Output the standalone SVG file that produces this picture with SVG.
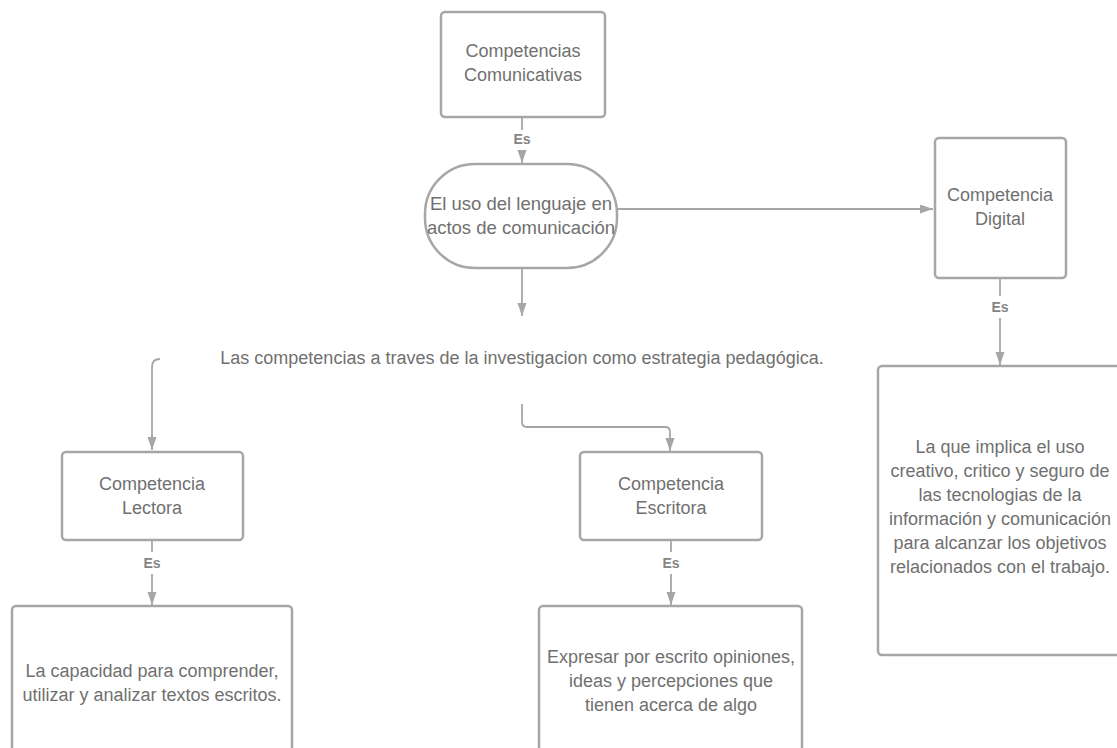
<svg xmlns="http://www.w3.org/2000/svg" width="1117" height="748" viewBox="0 0 1117 748">
<defs>
<style>
.box{fill:#fff;stroke:#a6a6a6;stroke-width:2.5}
.t{font-family:"Liberation Sans",Arial,sans-serif;font-size:18px;fill:#707070;text-anchor:middle}
.tl{font-size:18.5px}
.c{fill:none;stroke:#a6a6a6;stroke-width:1.8}
.es{font-family:"Liberation Sans",Arial,sans-serif;font-size:14px;font-weight:bold;fill:#858585;text-anchor:middle}
</style>
<marker id="ah" markerWidth="13" markerHeight="10" refX="13" refY="4.5" orient="auto" markerUnits="userSpaceOnUse">
<path d="M0,0 L13,4.5 L0,9 Z" fill="#a6a6a6"/>
</marker>
</defs>
<rect width="1117" height="748" fill="#fff"/>
<g id="connectors">
<path class="c" d="M522,117 V130" />
<path class="c" d="M522,150 V163" marker-end="url(#ah)"/>
<path class="c" d="M617,209 H933" marker-end="url(#ah)"/>
<path class="c" d="M522,268 V316" marker-end="url(#ah)"/>
<path class="c" d="M160,359 Q152,359 152,367 V450" marker-end="url(#ah)"/>
<path class="c" d="M522,404 V422 Q522,427 527,427 H665 Q670,427 670,432 V451" marker-end="url(#ah)"/>
<path class="c" d="M1000,278 V296" />
<path class="c" d="M1000,318 V365" marker-end="url(#ah)"/>
<path class="c" d="M152,540 V552" />
<path class="c" d="M152,574 V605" marker-end="url(#ah)"/>
<path class="c" d="M671,540 V552" />
<path class="c" d="M671,574 V605" marker-end="url(#ah)"/>
<text class="es" x="522" y="144">Es</text>
<text class="es" x="1000" y="312">Es</text>
<text class="es" x="152" y="568">Es</text>
<text class="es" x="671" y="568">Es</text>
</g>
<g id="n-comunicativas">
<rect class="box" x="441" y="12" width="164" height="105" rx="4"/>
<text class="t" x="523" y="57">Competencias</text>
<text class="t" x="523" y="81">Comunicativas</text>
</g>
<g id="n-uso">
<rect class="box" x="425" y="164" width="192" height="104" rx="50"/>
<text class="t tl" x="521" y="210">El uso del lenguaje en</text>
<text class="t tl" x="521" y="234">actos de comunicación</text>
</g>
<g id="n-estrategia">
<text class="t" x="522" y="364">Las competencias a traves de la investigacion como estrategia pedagógica.</text>
</g>
<g id="n-digital">
<rect class="box" x="935" y="138" width="131" height="140" rx="4"/>
<text class="t" x="1000" y="201">Competencia</text>
<text class="t" x="1000" y="225">Digital</text>
</g>
<g id="n-digital-def">
<rect class="box" x="878" y="366" width="245" height="289" rx="4"/>
<text class="t" x="1000" y="453">La que implica el uso</text>
<text class="t" x="1000" y="477">creativo, critico y seguro de</text>
<text class="t" x="1000" y="501">las tecnologias de la</text>
<text class="t" x="1000" y="525">información y comunicación</text>
<text class="t" x="1000" y="549">para alcanzar los objetivos</text>
<text class="t" x="1000" y="573">relacionados con el trabajo.</text>
</g>
<g id="n-lectora">
<rect class="box" x="62" y="452" width="181" height="88" rx="4"/>
<text class="t" x="152" y="490">Competencia</text>
<text class="t" x="152" y="514">Lectora</text>
</g>
<g id="n-lectora-def">
<rect class="box" x="12" y="606" width="280" height="160" rx="4"/>
<text class="t" x="152" y="677">La capacidad para comprender,</text>
<text class="t" x="152" y="701">utilizar y analizar textos escritos.</text>
</g>
<g id="n-escritora">
<rect class="box" x="580" y="452" width="182" height="88" rx="4"/>
<text class="t" x="671" y="490">Competencia</text>
<text class="t" x="671" y="514">Escritora</text>
</g>
<g id="n-escritora-def">
<rect class="box" x="539" y="606" width="263" height="160" rx="4"/>
<text class="t" x="671" y="663">Expresar por escrito opiniones,</text>
<text class="t" x="671" y="687">ideas y percepciones que</text>
<text class="t" x="671" y="711">tienen acerca de algo</text>
</g>
</svg>
